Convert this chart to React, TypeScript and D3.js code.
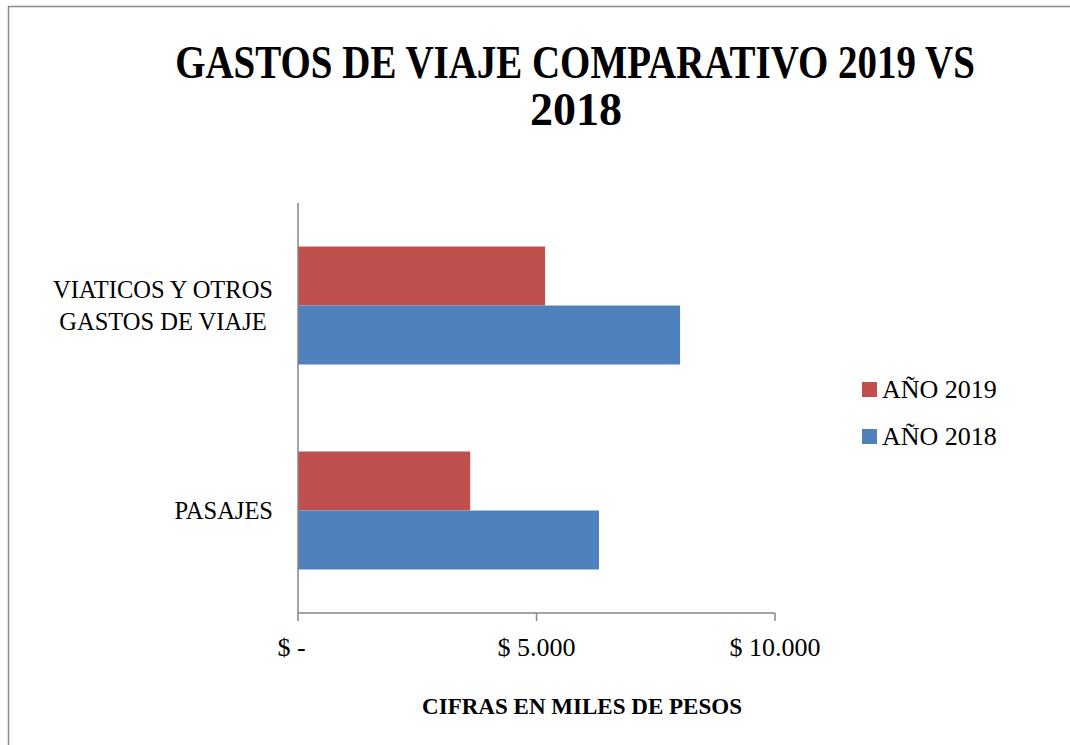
import React, { useEffect, useRef } from "react";
import * as d3 from "d3";

const categories = ["VIATICOS Y OTROS GASTOS DE VIAJE", "PASAJES"];
const categoryLines = [["VIATICOS Y OTROS", "GASTOS DE VIAJE"], ["PASAJES"]];
const seriesNames = ["AÑO 2019", "AÑO 2018"];
const values2019 = [5180, 3610];
const values2018 = [8010, 6310];
const seriesColors = ["#C0504D", "#4F81BD"];
const xTickValues = [0, 5000, 10000];
const xTickLabels = ["$ -\u2007", "$ 5.000", "$ 10.000"];
const titleLines = ["GASTOS DE VIAJE COMPARATIVO 2019 VS", "2018"];
const xAxisTitle = "CIFRAS EN MILES DE PESOS";

const W = 1070;
const H = 745;
const FONT = "'Liberation Serif', 'Times New Roman', serif";

export default function App() {
  const ref = useRef<SVGSVGElement | null>(null);

  useEffect(() => {
    const svg = d3.select(ref.current);
    svg.selectAll("*").remove();

    const left = 298, right = 775, top = 203, bottom = 613;
    const x = d3.scaleLinear().domain([0, 10000]).range([left, right]);
    const y = d3
      .scaleBand<string>()
      .domain(categories)
      .range([top, bottom])
      .paddingInner(0.4244)
      .paddingOuter(0.2122);
    const ys = d3.scaleBand<string>().domain(seriesNames).range([0, y.bandwidth()]);

    // outer border
    svg
      .append("rect")
      .attr("x", 8.5)
      .attr("y", 6.5)
      .attr("width", 1200)
      .attr("height", 900)
      .attr("fill", "white")
      .attr("stroke", "#8a8a8a")
      .attr("stroke-width", 1.5);

    // helper: fit a text horizontally to a target width by scaling about its centre
    const fitWidth = (
      sel: d3.Selection<SVGTextElement, unknown, null, undefined>,
      cx: number,
      cy: number,
      target: number
    ) => {
      const n = sel.node() as SVGTextElement;
      const w = n.getComputedTextLength();
      const s = target / w;
      sel
        .attr("x", 0)
        .attr("y", 0)
        .attr("transform", `translate(${cx},${cy}) scale(${s},1)`);
    };

    // title
    const t = svg
      .append("g")
      .attr("font-family", FONT)
      .attr("font-weight", "bold")
      .attr("font-size", 46)
      .attr("fill", "#000");
    const t1 = t
      .append("text")
      .attr("text-anchor", "middle")
      .text(titleLines[0]) as any;
    fitWidth(t1, 575, 78, 800);
    t.append("text")
      .attr("x", 576)
      .attr("y", 125)
      .attr("text-anchor", "middle")
      .text(titleLines[1]);

    // bars
    const seriesValues = [values2019, values2018];
    seriesNames.forEach((s, si) => {
      svg
        .append("g")
        .selectAll("rect")
        .data(categories)
        .join("rect")
        .attr("x", x(0))
        .attr("y", (c) => (y(c) as number) + (ys(s) as number))
        .attr("width", (c, i) => x(seriesValues[si][i]) - x(0))
        .attr("height", ys.bandwidth())
        .attr("fill", seriesColors[si]);
    });

    // axes
    const axisColor = "#868686";
    svg
      .append("line")
      .attr("x1", left)
      .attr("x2", left)
      .attr("y1", top)
      .attr("y2", bottom)
      .attr("stroke", axisColor)
      .attr("stroke-width", 1.5);
    svg
      .append("line")
      .attr("x1", left)
      .attr("x2", right)
      .attr("y1", bottom)
      .attr("y2", bottom)
      .attr("stroke", axisColor)
      .attr("stroke-width", 1.5);
    svg
      .append("g")
      .selectAll("line")
      .data(xTickValues)
      .join("line")
      .attr("x1", (d) => x(d))
      .attr("x2", (d) => x(d))
      .attr("y1", bottom)
      .attr("y2", bottom + 8)
      .attr("stroke", axisColor)
      .attr("stroke-width", 1.5);
    svg
      .append("g")
      .attr("font-family", FONT)
      .attr("font-size", 26)
      .selectAll("text")
      .data(xTickValues)
      .join("text")
      .attr("x", (d) => x(d))
      .attr("y", 656)
      .attr("text-anchor", "middle")
      .attr("xml:space", "preserve")
      .text((d, i) => xTickLabels[i]);

    // category labels
    const labelRight = 273;
    const lineH = 32;
    categories.forEach((c, ci) => {
      const lines = categoryLines[ci];
      const g = svg
        .append("g")
        .attr("font-family", FONT)
        .attr("font-size", 24.5)
        .attr("fill", "#000");
      const center = (y(c) as number) + y.bandwidth() / 2;
      const firstBase = center + 8 - ((lines.length - 1) * lineH) / 2;
      const texts = lines.map((ln, li) =>
        g
          .append("text")
          .attr("y", firstBase + li * lineH)
          .attr("text-anchor", "middle")
          .text(ln)
      );
      let maxW = 0;
      texts.forEach((tx) => {
        const n = tx.node() as SVGTextElement;
        maxW = Math.max(maxW, n.getComputedTextLength());
      });
      texts.forEach((tx) => tx.attr("x", labelRight - maxW / 2));
    });

    // x axis title
    const at = svg
      .append("text")
      .attr("text-anchor", "middle")
      .attr("font-family", FONT)
      .attr("font-weight", "bold")
      .attr("font-size", 24)
      .text(xAxisTitle) as any;
    fitWidth(at, 582, 714, 320);

    // legend
    const lg = svg.append("g").attr("font-family", FONT).attr("font-size", 26);
    seriesNames.forEach((s, i) => {
      const yy = 382 + i * 47;
      lg.append("rect")
        .attr("x", 862)
        .attr("y", yy)
        .attr("width", 15)
        .attr("height", 15)
        .attr("fill", seriesColors[i]);
      lg.append("text")
        .attr("x", 882)
        .attr("y", yy + 16)
        .attr("fill", "#000")
        .text(s);
    });
  }, []);

  return (
    <svg
      ref={ref}
      width={W}
      height={H}
      style={{ position: "absolute", left: 0, top: 0, display: "block" }}
    />
  );
}
